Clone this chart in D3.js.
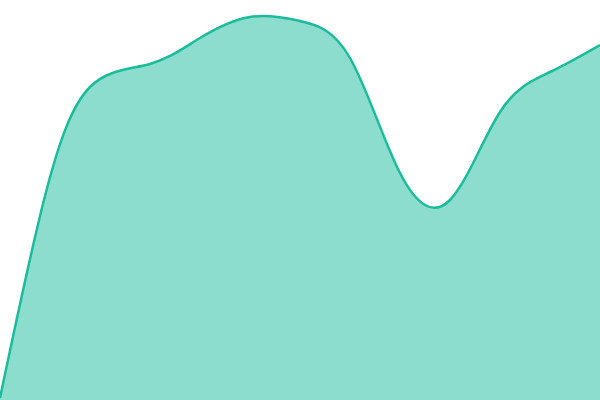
<!DOCTYPE html>
<html>
<head>
<meta charset="utf-8">
<script src="https://cdn.jsdelivr.net/npm/d3@7"></script>
<style>
html,body{margin:0;padding:0;background:#fff;overflow:hidden;}
svg{display:block;}
</style>
</head>
<body>
<svg id="chart" width="600" height="400"></svg>
<script>
const xs = [0,45,90,150,200,250,300,350,400,450,500,550,600];
const values = [2,204,313,336,362,383,379,342,227,200,288,328,355];

const width = 600, height = 400;
const data = xs.map((x, i) => ({x, v: values[i]}));

const x = d3.scaleLinear().domain([0, 600]).range([0, width]);
const y = d3.scaleLinear().domain([0, 400]).range([height, 0]);

const svg = d3.select("#chart");

const area = d3.area()
  .x(d => x(d.x))
  .y0(y(-10))
  .y1(d => y(d.v))
  .curve(d3.curveNatural);

const line = d3.line()
  .x(d => x(d.x))
  .y(d => y(d.v))
  .curve(d3.curveNatural);

svg.append("path")
  .datum(data)
  .attr("d", area)
  .attr("fill", "#1abc9c")
  .attr("fill-opacity", 0.5);

svg.append("path")
  .datum(data)
  .attr("d", line)
  .attr("fill", "none")
  .attr("stroke", "#1abc9c")
  .attr("stroke-width", 2.5);
</script>
</body>
</html>
